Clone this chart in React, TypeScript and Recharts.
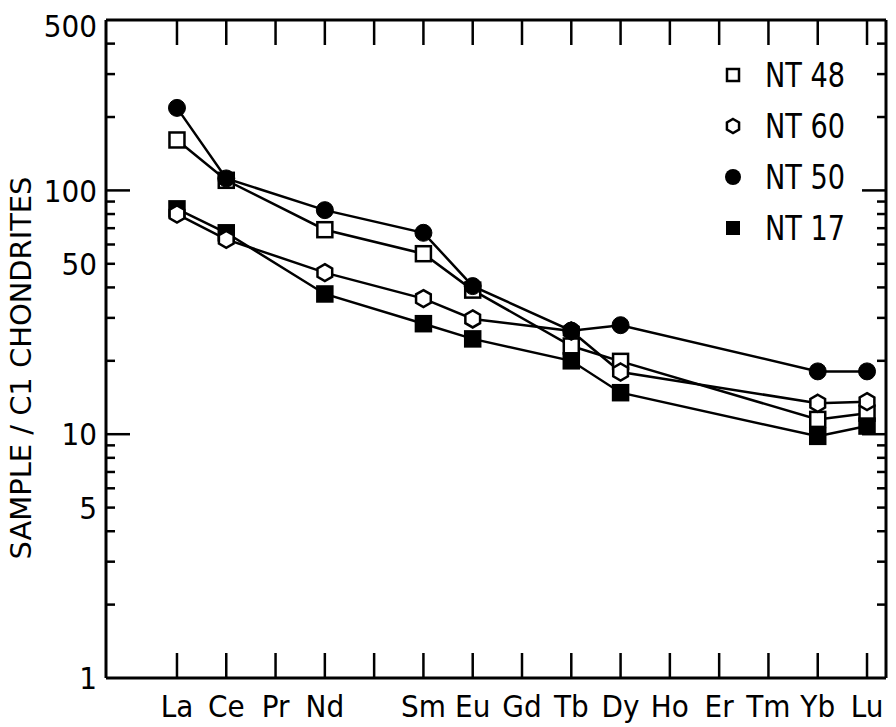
import React from 'react';
import { LineChart, Line, XAxis, YAxis } from 'recharts';

// REE order, Pm left without a label
const elements = ['La', 'Ce', 'Pr', 'Nd', '', 'Sm', 'Eu', 'Gd', 'Tb', 'Dy', 'Ho', 'Er', 'Tm', 'Yb', 'Lu'];
const seriesNames = ['NT 48', 'NT 60', 'NT 50', 'NT 17'];

const nt48 = [161, 110, null, 69, null, 55, 39, null, 23, 19.9, null, null, null, 11.5, 12.2];
const nt60 = [80, 63, null, 46, null, 36, 29.7, null, 26.5, 18, null, null, null, 13.4, 13.6];
const nt50 = [218, 112, null, 83, null, 67, 40.5, null, 26.6, 28, null, null, null, 18.1, 18.1];
const nt17 = [84, 67, null, 37.6, null, 28.4, 24.6, null, 20, 14.8, null, null, null, 9.8, 10.8];

const yLabels = [1, 5, 10, 50, 100, 500];
const yLong = [10, 100];
const yTicks = [1, 2, 3, 4, 5, 6, 7, 8, 9, 10, 20, 30, 40, 50, 60, 70, 80, 90, 100, 200, 300, 400, 500];

const data = elements.map((el, i) => ({ i, el, nt48: nt48[i], nt60: nt60[i], nt50: nt50[i], nt17: nt17[i] }));
const xTicks = elements.map((_, i) => i);

const FONT = '"DejaVu Sans Condensed", "Liberation Sans Narrow", "DejaVu Sans", sans-serif';
const SW = 2.5;

const Square = ({ cx, cy, filled }: any) => (
  <rect x={cx - 7.5} y={cy - 7.5} width={15} height={15} fill={filled ? '#000' : '#fff'} stroke="#000" strokeWidth={SW} />
);
const Circle = ({ cx, cy }: any) => <circle cx={cx} cy={cy} r={8.5} fill="#000" stroke="#000" strokeWidth={1} />;
const Hexagon = ({ cx, cy, r = 8.5 }: any) => {
  const pts = [0, 1, 2, 3, 4, 5]
    .map((k) => {
      const a = (Math.PI / 3) * k - Math.PI / 2;
      return `${cx + r * Math.cos(a)},${cy + r * Math.sin(a)}`;
    })
    .join(' ');
  return <polygon points={pts} fill="#fff" stroke="#000" strokeWidth={SW} />;
};

const dotFn = (kind: string) => (p: any) => {
  if (p.cx == null || p.cy == null || p.value == null) return <g key={p.index} />;
  const el =
    kind === 'sq' ? <Square cx={p.cx} cy={p.cy} /> :
    kind === 'fsq' ? <Square cx={p.cx} cy={p.cy} filled /> :
    kind === 'hex' ? <Hexagon cx={p.cx} cy={p.cy} /> :
    <Circle cx={p.cx} cy={p.cy} />;
  return <g key={p.index}>{el}</g>;
};

const LeftTick = (props: any) => {
  const { x, y, payload } = props;
  const v = payload.value;
  const len = yLong.includes(v) ? 24 : 9;
  const showLine = v !== 1 && v !== 500;
  return (
    <g>
      {showLine && <line x1={x} x2={x + len} y1={y} y2={y} stroke="#000" strokeWidth={SW} />}
      {yLabels.includes(v) && (
        <text x={x - 9} y={v === 500 ? y + 6 : y} dy="0.36em" textAnchor="end" fontFamily={FONT} fontSize={31} fill="#000">
          {v}
        </text>
      )}
    </g>
  );
};

const RightTick = (props: any) => {
  const { x, y, payload } = props;
  const v = payload.value;
  if (v === 1 || v === 500) return <g />;
  const len = yLong.includes(v) ? 24 : 9;
  return <line x1={x} x2={x - len} y1={y} y2={y} stroke="#000" strokeWidth={SW} />;
};

const BottomTick = (props: any) => {
  const { x, y, payload } = props;
  return (
    <g>
      <line x1={x} x2={x} y1={y} y2={y - 25} stroke="#000" strokeWidth={SW} />
      <text x={x} y={y + 39} textAnchor="middle" fontFamily={FONT} fontSize={31} fill="#000">
        {elements[payload.value]}
      </text>
    </g>
  );
};

const TopTick = (props: any) => {
  const { x, y } = props;
  return <line x1={x} x2={x} y1={y} y2={y + 25} stroke="#000" strokeWidth={SW} />;
};

const YTitle = (props: any) => {
  const vb = props.viewBox || {};
  const cy = (vb.y ?? 20) + (vb.height ?? 658) / 2 + 19;
  const cx = 21;
  return (
    <text
      x={cx}
      y={cy}
      transform={`rotate(-90 ${cx} ${cy})`}
      textAnchor="middle"
      dominantBaseline="central"
      fontFamily={FONT}
      fontSize={28}
      textLength={383}
      lengthAdjust="spacingAndGlyphs"
      fill="#000"
    >
      SAMPLE / C1 CHONDRITES
    </text>
  );
};

const legendKinds = ['sq', 'hex', 'circ', 'fsq'];

export default function App() {
  return (
    <div style={{ position: 'absolute', left: 0, top: 0, width: 896, height: 727, background: '#fff' }}>
      <LineChart width={896} height={727} data={data} margin={{ top: 0, right: 0, left: 0, bottom: 0 }}>
        <XAxis
          xAxisId="b"
          dataKey="i"
          type="number"
          domain={[-1.44, 14.385]}
          ticks={xTicks}
          allowDataOverflow
          height={49}
          tickSize={0}
          tickMargin={0}
          tickLine={false}
          tick={<BottomTick />}
          axisLine={{ stroke: '#000', strokeWidth: 3 }}
          interval={0}
        />
        <XAxis
          xAxisId="t"
          orientation="top"
          dataKey="i"
          type="number"
          domain={[-1.44, 14.385]}
          ticks={xTicks}
          allowDataOverflow
          height={20}
          tickSize={0}
          tickMargin={0}
          tickLine={false}
          tick={<TopTick />}
          axisLine={{ stroke: '#000', strokeWidth: 3 }}
          interval={0}
        />
        <YAxis
          yAxisId="l"
          scale="log"
          domain={[1, 500]}
          ticks={yTicks}
          allowDataOverflow
          width={106}
          tickSize={0}
          tickMargin={0}
          tickLine={false}
          tick={<LeftTick />}
          axisLine={{ stroke: '#000', strokeWidth: 3 }}
          interval={0}
          label={<YTitle />}
        />
        <YAxis
          yAxisId="r"
          orientation="right"
          scale="log"
          domain={[1, 500]}
          ticks={yTicks}
          allowDataOverflow
          width={10}
          tickSize={0}
          tickMargin={0}
          tickLine={false}
          tick={<RightTick />}
          axisLine={{ stroke: '#000', strokeWidth: 3 }}
          interval={0}
        />
        <Line xAxisId="b" yAxisId="l" dataKey="nt48" stroke="#000" strokeWidth={SW} connectNulls dot={dotFn('sq')} isAnimationActive={false} />
        <Line xAxisId="b" yAxisId="l" dataKey="nt17" stroke="#000" strokeWidth={SW} connectNulls dot={dotFn('fsq')} isAnimationActive={false} />
        <Line xAxisId="b" yAxisId="l" dataKey="nt60" stroke="#000" strokeWidth={SW} connectNulls dot={dotFn('hex')} isAnimationActive={false} />
        <Line xAxisId="b" yAxisId="l" dataKey="nt50" stroke="#000" strokeWidth={SW} connectNulls dot={dotFn('circ')} isAnimationActive={false} />
      </LineChart>
      <svg style={{ position: 'absolute', left: 715, top: 50 }} width={160} height={200}>
        {seriesNames.map((name, k) => {
          const cy = 25 + k * 51;
          const kind = legendKinds[k];
          return (
            <g key={name}>
              {kind === 'sq' && <rect x={12} y={cy - 6} width={12} height={12} fill="#fff" stroke="#000" strokeWidth={2.5} />}
              {kind === 'hex' && <Hexagon cx={18} cy={cy} r={7} />}
              {kind === 'circ' && <circle cx={18} cy={cy} r={8} fill="#000" />}
              {kind === 'fsq' && <rect x={11} y={cy - 7} width={14} height={14} fill="#000" />}
              <text x={50} y={cy} dy="0.36em" fontFamily={FONT} fontSize={33} fill="#000" textLength={80} lengthAdjust="spacingAndGlyphs">
                {name}
              </text>
            </g>
          );
        })}
      </svg>
    </div>
  );
}
